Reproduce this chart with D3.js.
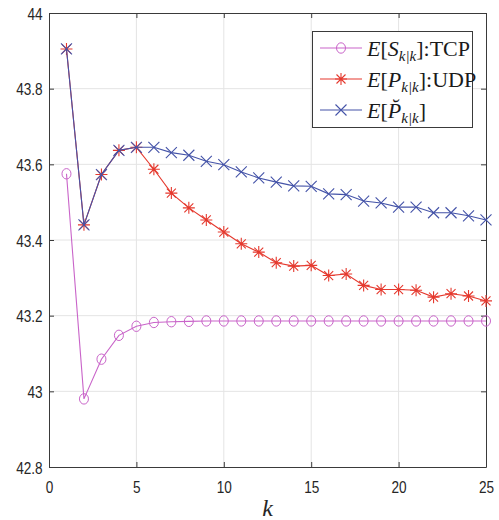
<!DOCTYPE html>
<html>
<head>
<meta charset="utf-8">
<script src="https://cdn.jsdelivr.net/npm/d3@7"></script>
<style>
  html, body { margin: 0; padding: 0; background: #fff; }
  svg { display: block; }
</style>
</head>
<body>
<svg id="chart" width="499" height="520"></svg>
<script>
// Time steps k = 1..25
const steps = d3.range(1, 26);

// E[S_{k|k}] : TCP
const tcpValues = [43.575, 42.98, 43.085, 43.148, 43.172, 43.182, 43.184, 43.185, 43.186, 43.186,
  43.186, 43.186, 43.186, 43.186, 43.186, 43.186, 43.186, 43.186, 43.186, 43.186,
  43.186, 43.186, 43.186, 43.186, 43.186];

// E[P_{k|k}] : UDP
const udpValues = [43.905, 43.44, 43.573, 43.637, 43.645, 43.587, 43.524, 43.485, 43.453, 43.421,
  43.39, 43.368, 43.34, 43.331, 43.333, 43.306, 43.31, 43.28, 43.269, 43.269,
  43.267, 43.249, 43.258, 43.252, 43.239];

// E[P̆_{k|k}]
const brevValues = [43.905, 43.44, 43.573, 43.637, 43.645, 43.645, 43.631, 43.624, 43.608, 43.599,
  43.58, 43.564, 43.553, 43.543, 43.542, 43.522, 43.52, 43.503, 43.498, 43.487,
  43.487, 43.472, 43.472, 43.464, 43.453];

const xTicks = [0, 5, 10, 15, 20, 25];
const yTicks = [42.8, 43, 43.2, 43.4, 43.6, 43.8, 44];
const yTickLabels = ["42.8", "43", "43.2", "43.4", "43.6", "43.8", "44"];

const svg = d3.select("#chart");
const plotLeft = 49, plotRight = 486, plotTop = 13, plotBottom = 467;

const x = d3.scaleLinear().domain([0, 25]).range([plotLeft, plotRight]);
const y = d3.scaleLinear().domain([42.8, 44]).range([plotBottom, plotTop]);

const axisColor = "#3a3a3a";
const gridColor = "#e4e4e4";
const labelFont = "'Liberation Sans', Arial, sans-serif";
const serif = "'Liberation Serif', 'Times New Roman', serif";
const squeeze = 0.8;

// grid
const grid = svg.append("g");
grid.selectAll("line.gx").data(xTicks.slice(1, -1)).join("line")
  .attr("x1", d => x(d)).attr("x2", d => x(d))
  .attr("y1", plotTop).attr("y2", plotBottom)
  .attr("stroke", gridColor).attr("stroke-width", 1);
grid.selectAll("line.gy").data(yTicks.slice(1, -1)).join("line")
  .attr("y1", d => y(d)).attr("y2", d => y(d))
  .attr("x1", plotLeft).attr("x2", plotRight)
  .attr("stroke", gridColor).attr("stroke-width", 1);

// axes (ticks pointing inward, box on all sides)
function styleAxis(g) {
  g.select(".domain").attr("stroke", axisColor);
  g.selectAll(".tick line").attr("stroke", axisColor);
  g.selectAll(".tick text")
    .attr("fill", "#262626")
    .style("font-family", labelFont)
    .style("font-size", "17px");
}

const xAxis = svg.append("g").attr("transform", `translate(0,${plotBottom})`)
  .call(d3.axisBottom(x).tickValues(xTicks).tickSizeInner(-5).tickSizeOuter(0).tickPadding(14)
    .tickFormat(d3.format("d")));
styleAxis(xAxis);
xAxis.selectAll(".tick text").attr("transform", `scale(${squeeze},1)`);

const yAxis = svg.append("g").attr("transform", `translate(${plotLeft},0)`)
  .call(d3.axisLeft(y).tickValues(yTicks).tickSizeInner(-5).tickSizeOuter(0).tickPadding(8)
    .tickFormat((d, i) => yTickLabels[i]));
styleAxis(yAxis);
yAxis.selectAll(".tick text").attr("transform", `scale(${squeeze},1)`).attr("dy", "0.36em");

const xTop = svg.append("g").attr("transform", `translate(0,${plotTop})`)
  .call(d3.axisTop(x).tickValues(xTicks).tickSizeInner(-5).tickSizeOuter(0).tickFormat(""));
styleAxis(xTop);
const yRight = svg.append("g").attr("transform", `translate(${plotRight},0)`)
  .call(d3.axisRight(y).tickValues(yTicks).tickSizeInner(-5).tickSizeOuter(0).tickFormat(""));
styleAxis(yRight);

// x axis label
svg.append("text")
  .attr("x", (plotLeft + plotRight) / 2).attr("y", 516)
  .attr("text-anchor", "middle")
  .style("font-family", serif).style("font-style", "italic").style("font-size", "24px")
  .attr("fill", "#262626")
  .text("k");

// series
const series = [
  { name: "tcp", values: tcpValues, color: "#c964c9", marker: "circle" },
  { name: "udp", values: udpValues, color: "#e5392e", marker: "star" },
  { name: "brev", values: brevValues, color: "#4453a8", marker: "cross" }
];

const line = d3.line().x((d, i) => x(steps[i])).y(d => y(d));

function drawMarker(g, type, color) {
  if (type === "circle") {
    g.append("ellipse").attr("rx", 4.5).attr("ry", 5.2).attr("fill", "none")
      .attr("stroke", color).attr("stroke-width", 1);
  } else if (type === "star") {
    const s = 6;
    const d = s * 0.75;
    g.append("path")
      .attr("d", `M${-s},0L${s},0M0,${-s}L0,${s}M${-d},${-d}L${d},${d}M${-d},${d}L${d},${-d}`)
      .attr("stroke", color).attr("stroke-width", 1.1).attr("fill", "none");
  } else {
    const s = 5.5;
    g.append("path")
      .attr("d", `M${-s},${-s}L${s},${s}M${-s},${s}L${s},${-s}`)
      .attr("stroke", color).attr("stroke-width", 1.1).attr("fill", "none");
  }
}

series.forEach(s => {
  const g = svg.append("g").attr("class", s.name);
  g.append("path").datum(s.values)
    .attr("d", line)
    .attr("fill", "none")
    .attr("stroke", s.color)
    .attr("stroke-width", 1.1);
  g.selectAll("g.m").data(s.values).join("g")
    .attr("class", "m")
    .attr("transform", (d, i) => `translate(${x(steps[i])},${y(d)})`)
    .each(function () { drawMarker(d3.select(this), s.marker, s.color); });
});

// legend
const legend = svg.append("g");
legend.append("rect")
  .attr("x", 312.5).attr("y", 31.5).attr("width", 160).attr("height", 96)
  .attr("fill", "#fff").attr("stroke", axisColor).attr("stroke-width", 1);

const legendLabels = [
  [{ t: "E", i: true }, { t: "[" }, { t: "S", i: true }, { t: "k|k", sub: true }, { t: "]:TCP" }],
  [{ t: "E", i: true }, { t: "[" }, { t: "P", i: true }, { t: "k|k", sub: true }, { t: "]:UDP" }],
  [{ t: "E", i: true }, { t: "[" }, { t: "P\u0306", i: true }, { t: "k|k", sub: true }, { t: "]" }]
];
const legendY = [48, 79, 110];

series.forEach((s, idx) => {
  const ly = legendY[idx];
  legend.append("line")
    .attr("x1", 320).attr("x2", 362).attr("y1", ly).attr("y2", ly)
    .attr("stroke", s.color).attr("stroke-width", 1.1);
  drawMarker(legend.append("g").attr("transform", `translate(341,${ly})`), s.marker, s.color);

  const txt = legend.append("text")
    .attr("transform", `translate(367,${ly + 7.5})`)
    .style("font-family", serif).style("font-size", "22px")
    .attr("fill", "#1a1a1a");
  let shifted = false;
  legendLabels[idx].forEach(part => {
    const ts = txt.append("tspan").text(part.t);
    if (part.i) ts.style("font-style", "italic");
    if (part.sub) {
      ts.style("font-size", "15px").style("font-style", "italic").attr("dy", 5);
      shifted = true;
    } else if (shifted) {
      ts.attr("dy", -5);
      shifted = false;
    }
  });
});
</script>
</body>
</html>
